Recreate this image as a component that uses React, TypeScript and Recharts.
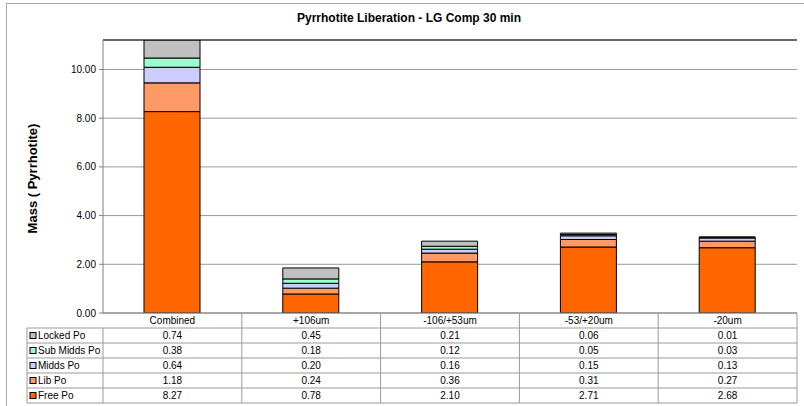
import React from "react";
import {
  BarChart,
  Bar,
  XAxis,
  YAxis,
  CartesianGrid,
  ReferenceLine,
} from "recharts";

const categories = ["Combined", "+106um", "-106/+53um", "-53/+20um", "-20um"];
const freePo = [8.27, 0.78, 2.1, 2.71, 2.68];
const libPo = [1.18, 0.24, 0.36, 0.31, 0.27];
const middsPo = [0.64, 0.2, 0.16, 0.15, 0.13];
const subMiddsPo = [0.38, 0.18, 0.12, 0.05, 0.03];
const lockedPo = [0.74, 0.45, 0.21, 0.06, 0.01];
const yTicks = [0, 2, 4, 6, 8, 10];
const Y_MAX = 11.21;

// stacking order, bottom to top
const SERIES = [
  { key: "free", name: "Free Po", values: freePo, color: "#FF6600" },
  { key: "lib", name: "Lib Po", values: libPo, color: "#FF9966" },
  { key: "midds", name: "Midds Po", values: middsPo, color: "#CCCCFF" },
  { key: "subMidds", name: "Sub Midds Po", values: subMiddsPo, color: "#99FFCC" },
  { key: "locked", name: "Locked Po", values: lockedPo, color: "#C0C0C0" },
];

const data = categories.map((name, i) => {
  const row: Record<string, string | number> = { name };
  SERIES.forEach((s) => (row[s.key] = s.values[i]));
  return row;
});

const FONT = '"Liberation Sans", Arial, sans-serif';
const W = 804;
const H = 406;
const PLOT_LEFT = 103;
const PLOT_RIGHT = 797;
const PLOT_TOP = 40;
const PLOT_BOTTOM = 313;
const COL_W = (PLOT_RIGHT - PLOT_LEFT) / categories.length;
const ROW_H = 15;
const LEGEND_LEFT = 27;
const GRID = "#9a9a9a";

// the data table under the plot is drawn from each category tick
const TableTick = (props: any) => {
  const { x, payload, index } = props;
  const left = x - COL_W / 2;
  const rows = [...SERIES].reverse();
  const top = PLOT_BOTTOM;
  return (
    <g>
      {/* header cell */}
      <line x1={left + COL_W} y1={top} x2={left + COL_W} y2={top + ROW_H * 6} stroke={GRID} />
      <text x={x} y={top + ROW_H / 2 + 3.5} textAnchor="middle" fontSize={10} fontFamily={FONT} fill="#000">
        {payload.value}
      </text>
      {rows.map((s, r) => {
        const y0 = top + ROW_H * (r + 1);
        return (
          <g key={s.key}>
            <line x1={left} y1={y0} x2={left + COL_W} y2={y0} stroke={GRID} />
            <text x={x} y={y0 + ROW_H / 2 + 3.5} textAnchor="middle" fontSize={10} fontFamily={FONT} fill="#000">
              {s.values[index].toFixed(2)}
            </text>
          </g>
        );
      })}
      <line x1={left} y1={top + ROW_H * 6} x2={left + COL_W} y2={top + ROW_H * 6} stroke={GRID} />
      {index === 0 && (
        <g>
          <line x1={LEGEND_LEFT} y1={top + ROW_H} x2={LEGEND_LEFT} y2={top + ROW_H * 6} stroke={GRID} />
          <line x1={left} y1={top + ROW_H} x2={left} y2={top + ROW_H * 6} stroke={GRID} />
          {rows.map((s, r) => {
            const y0 = top + ROW_H * (r + 1);
            return (
              <g key={s.key}>
                <line x1={LEGEND_LEFT} y1={y0} x2={left} y2={y0} stroke={GRID} />
                <rect x={LEGEND_LEFT + 3} y={y0 + 4.5} width={6} height={6} fill={s.color} stroke="#000" strokeWidth={1} />
                <text x={LEGEND_LEFT + 11} y={y0 + ROW_H / 2 + 3.5} fontSize={10} fontFamily={FONT} fill="#000">
                  {s.name}
                </text>
              </g>
            );
          })}
          <line x1={LEGEND_LEFT} y1={top + ROW_H * 6} x2={left} y2={top + ROW_H * 6} stroke={GRID} />
        </g>
      )}
    </g>
  );
};

const YLabel = ({ viewBox }: any) => {
  const cx = 32;
  const cy = viewBox.y + viewBox.height / 2 + 2;
  return (
    <text
      x={cx}
      y={cy}
      transform={`rotate(-90 ${cx} ${cy})`}
      textAnchor="middle"
      dominantBaseline="central"
      fontSize={13}
      fontWeight="bold"
      fontFamily={FONT}
      fill="#000"
    >
      Mass ( Pyrrhotite)
    </text>
  );
};

export default function App() {
  return (
    <div
      style={{
        position: "absolute",
        left: 0,
        top: 0,
        width: W,
        height: H,
        overflow: "hidden",
        background: "#fff",
        fontFamily: FONT,
      }}
    >
      <div
        style={{
          position: "absolute",
          left: 6,
          top: 3,
          width: W + 20,
          height: H + 20,
          border: "1.5px solid #a8a8a8",
        }}
      />
      <div
        style={{
          position: "absolute",
          left: 209,
          width: 400,
          top: 11,
          textAlign: "center",
          fontSize: 12,
          fontWeight: "bold",
          color: "#000",
        }}
      >
        Pyrrhotite Liberation - LG Comp 30 min
      </div>
      <div style={{ position: "absolute", left: 0, top: 0 }}>
        <BarChart
          width={W}
          height={H}
          data={data}
          margin={{ top: PLOT_TOP, right: W - PLOT_RIGHT, bottom: 4, left: PLOT_LEFT - 60 }}
          barSize={56}
        >
          <CartesianGrid vertical={false} stroke={GRID} strokeWidth={1} />
          <XAxis
            dataKey="name"
            height={H - PLOT_BOTTOM - 4}
            axisLine={{ stroke: "#808080" }}
            tickLine={false}
            tick={<TableTick />}
            interval={0}
          />
          <YAxis
            width={60}
            domain={[0, Y_MAX]}
            ticks={yTicks}
            allowDataOverflow
            tickFormatter={(v: number) => v.toFixed(2)}
            tick={{ fontSize: 10, fill: "#000", fontFamily: FONT }}
            axisLine={{ stroke: "#808080" }}
            tickLine={{ stroke: "#808080" }}
            tickSize={4}
            tickMargin={3}
            label={<YLabel />}
          />
          <YAxis
            yAxisId="frame"
            orientation="right"
            width={0}
            tick={false}
            axisLine={{ stroke: "#707070", strokeWidth: 2 }}
            tickLine={false}
          />
          <ReferenceLine y={Y_MAX} stroke="#000" strokeWidth={1} ifOverflow="extendDomain" />
          {SERIES.map((s) => (
            <Bar
              key={s.key}
              dataKey={s.key}
              name={s.name}
              stackId="po"
              fill={s.color}
              stroke="#000"
              strokeWidth={1}
              isAnimationActive={false}
            />
          ))}
        </BarChart>
      </div>
    </div>
  );
}
